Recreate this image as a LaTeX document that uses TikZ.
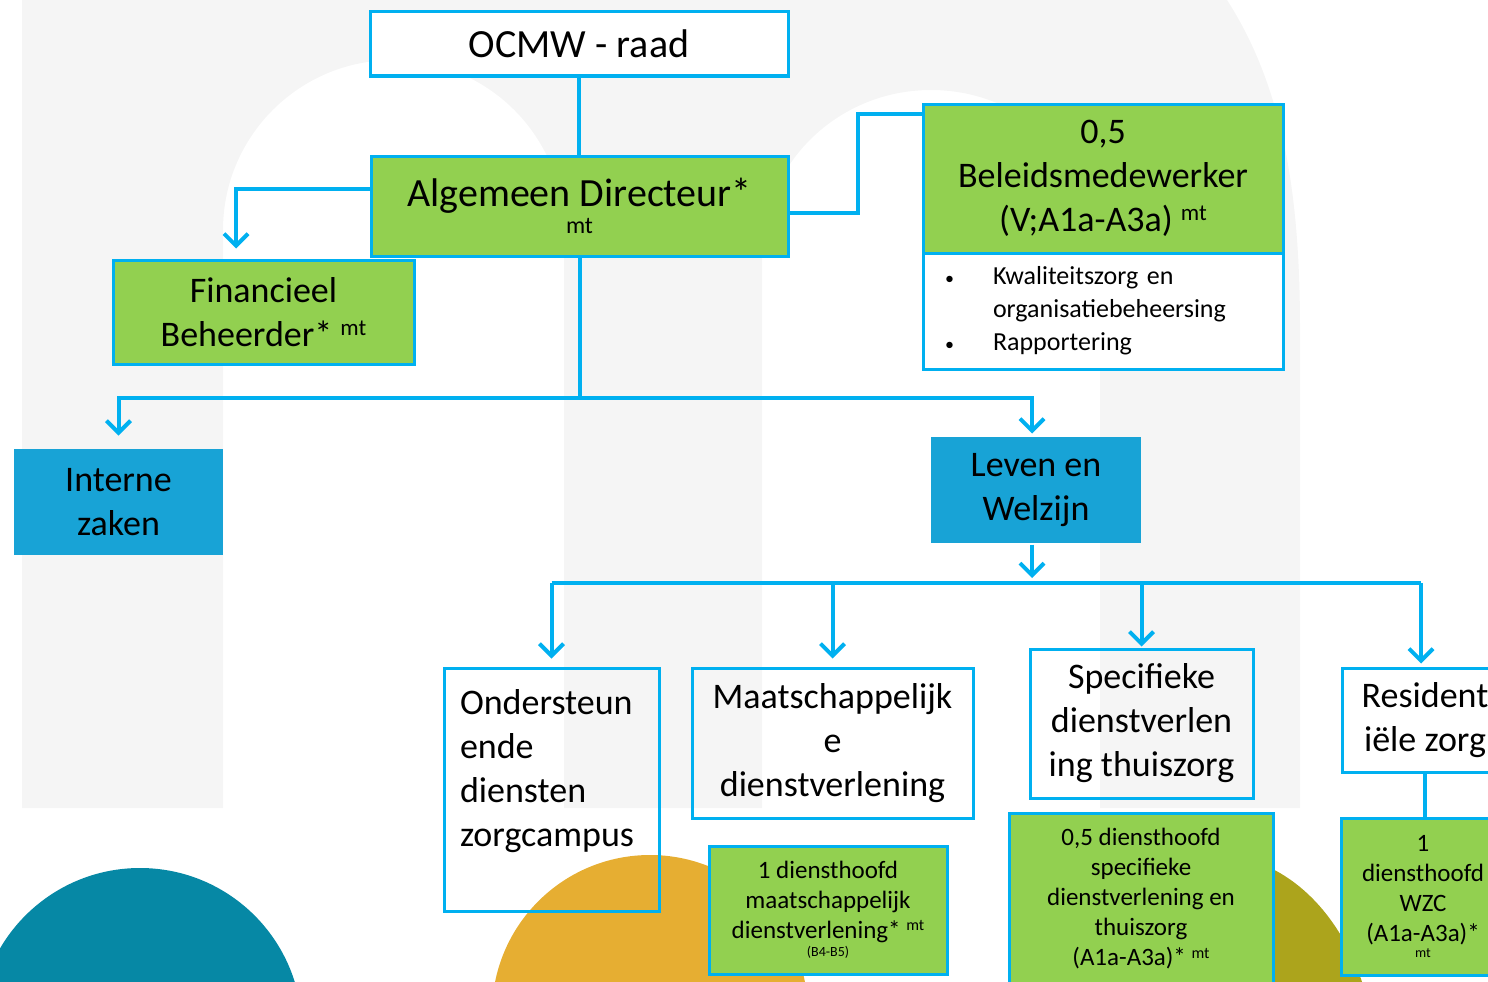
\documentclass[tikz,border=0pt]{standalone}
\usepackage{fontspec}
\setmainfont{Carlito}
\usetikzlibrary{arrows.meta}
\definecolor{lijn}{HTML}{00B0F0}
\definecolor{groen}{HTML}{92D050}
\definecolor{blauw}{HTML}{18A3D6}
\definecolor{grijs}{HTML}{F5F5F5}
\definecolor{bolblauw}{HTML}{0688A5}
\definecolor{boloranje}{HTML}{E6AE32}
\definecolor{bololijf}{HTML}{ACA41C}
\newcommand{\mtsup}[1]{\raisebox{.65ex}{\fontsize{#1}{#1}\selectfont mt}}
\newcommand{\bol}{\makebox[48pt][l]{\fontsize{18}{18}\selectfont •}}

\begin{document}
\begin{tikzpicture}[x=1pt, y=-1pt,
    box/.style={draw=lijn, line width=3pt, inner sep=0pt, align=center, font=\fontsize{36}{44}\selectfont},
    groenbox/.style={box, fill=groen},
    blauwbox/.style={box, draw=none, fill=blauw},
    kleinbox/.style={groenbox, font=\fontsize{25}{30}\selectfont},
    link/.style={draw=lijn, line width=4pt},
    pijl/.style={link, -{Straight Barb[length=12pt,width=24pt]}}]
    \useasboundingbox (0,0) rectangle (1488,982);
    \clip (0,0) rectangle (1488,982);
    \fill[grijs] (22,808) -- (22,0) -- (1227,0) .. controls (1285,90) and (1300,200) .. (1300,330)
        -- (1300,808) -- (1100,808) -- (1100,255) arc[start angle=0, end angle=-180, x radius=169, y radius=165]
        -- (762,808) -- (564,808) -- (564,230) arc[start angle=0, end angle=-180, x radius=170.5, y radius=170]
        -- (223,808) -- cycle;
    \fill[bolblauw] (140,1030) circle[radius=162];
    \fill[boloranje] (650,1013) circle[radius=158];
    \fill[bololijf] (1215,1065) ellipse[x radius=160, y radius=210];

    \node[box, fill=white, minimum width=418, minimum height=64, font=\fontsize{40}{48}\selectfont] (ocmw) at (579,44) {OCMW - raad};
    \node[groenbox, minimum width=417, minimum height=100, font=\fontsize{40}{24}\selectfont] (dir) at (579.5,206) {Algemeen Directeur*\\[3pt]{\fontsize{24}{24}\selectfont mt}};
    \node[groenbox, minimum width=360, minimum height=149] (beleid) at (1103,178.5) {0,5\\Beleidsmedewerker\\(V;A1a-A3a) \mtsup{23}};
    \node[box, fill=white, minimum width=360, minimum height=116, text width=316, align=left, inner xsep=22pt, font=\fontsize{26}{33}\selectfont] (taken) at (1103,311)
        {\bol Kwaliteitszorg en\\\hspace*{48pt}organisatiebeheersing\\\bol Rapportering};
    \node[groenbox, minimum width=301, minimum height=104] (fin) at (263.5,312) {Financieel\\Beheerder* \mtsup{23}};
    \node[blauwbox, minimum width=209, minimum height=106] (intern) at (118.5,502) {Interne\\zaken};
    \node[blauwbox, minimum width=210, minimum height=106] (leven) at (1036,490) {Leven en\\Welzijn};
    \node[box, minimum width=215, minimum height=243, text width=183, align=left, inner xsep=16pt] (onder) at (551.5,789.5) {Ondersteun\\ende\\diensten\\zorgcampus\\\mbox{}};
    \node[box, minimum width=281, minimum height=150] (maatsch) at (832.5,743) {Maatschappelijk\\e\\dienstverlening};
    \node[box, minimum width=223, minimum height=149] (spec) at (1141.5,723.5) {Specifieke\\dienstverlen\\ing thuiszorg};
    \node[box, minimum width=166, minimum height=104] (resid) at (1425,720) {Resident\\iële zorg};
    \node[kleinbox, minimum width=238, minimum height=128] (dhm) at (828,910) {1 diensthoofd\\maatschappelijk\\dienstverlening* \mtsup{16}\\[-12pt]{\fontsize{14}{14}\selectfont (B4-B5)}};
    \node[kleinbox, minimum width=264, minimum height=172] (dhs) at (1141,899) {0,5 diensthoofd\\specifieke\\dienstverlening en\\thuiszorg\\(A1a-A3a)* \mtsup{16}};
    \node[kleinbox, minimum width=164, minimum height=157] (dhw) at (1423,896.5) {1\\diensthoofd\\WZC\\(A1a-A3a)*\\[-14pt]{\fontsize{14}{14}\selectfont mt}};

    \draw[link] (ocmw.south) -- (ocmw.south |- dir.north);
    \draw[pijl, shorten >=10pt] ([yshift=17pt]dir.west) -| ([xshift=-27.5pt]fin.north);
    \draw[link] ([yshift=-7pt]dir.east) -- ++(68,0) |- ([yshift=64.5pt]beleid.west);
    \coordinate (splitsing) at (579,398);
    \draw[link] (dir.south) -- (dir.south |- splitsing);
    \draw[pijl, shorten >=12pt] (splitsing) -| (intern.north);
    \draw[pijl, shorten >=2pt] (splitsing) -| ([xshift=-4pt]leven.north);
    \coordinate (tak) at (1032,583);
    \draw[pijl, shorten >=5pt] ([xshift=-4pt]leven.south) -- (tak);
    \draw[link] (onder.north |- tak) -- ([xshift=-4pt]resid.north |- tak);
    \foreach \doel/\kort in {onder/8, maatsch/8, spec/1}
        \draw[pijl, shorten >=\kort pt] (\doel.north |- tak) -- (\doel.north);
    \draw[pijl, shorten >=3pt] ([xshift=-4pt]resid.north |- tak) -- ([xshift=-4pt]resid.north);
    \draw[link] (resid.south) -- (resid.south |- dhw.north);
\end{tikzpicture}
\end{document}
